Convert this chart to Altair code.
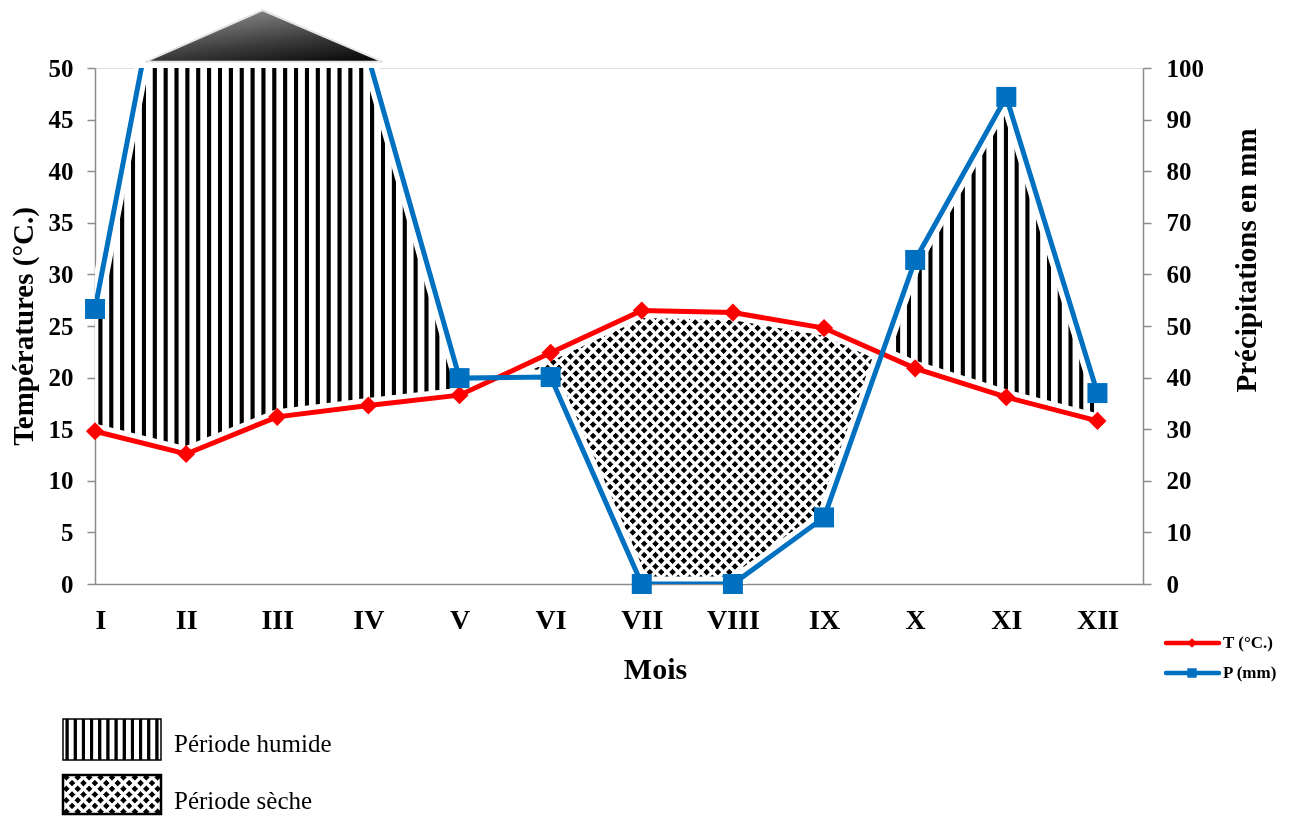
import altair as alt
import pandas as pd
import numpy as np

# ---------------- data ----------------
MONTHS = ["I", "II", "III", "IV", "V", "VI", "VII", "VIII", "IX", "X", "XI", "XII"]
TEMP = [14.8, 12.6, 16.2, 17.3, 18.3, 22.4, 26.5, 26.3, 24.8, 20.9, 18.1, 15.8]
PREC = [53.3, 145.0, 150.0, 102.0, 39.9, 40.1, 0.0, 0.0, 12.9, 62.8, 94.4, 37.0]
# decorative "off-scale" triangle above the plot (month index, mm)
TRI_X = [0.55, 1.84, 3.16]
TRI_P = [101.2, 111.2, 101.2]

SERIES = ["T (°C.)", "P (mm)"]
PERIODS = ["Période humide", "Période sèche"]

# ---------------- layout ----------------
W, H = 1048, 516
X_MAX = 11.5
T_MAX, P_MAX = 50, 100
PX_X = W / X_MAX
PX_T = H / T_MAX
RED = "#FF0000"
BLUE = "#0070C0"
FONT = "Liberation Serif"

idx = list(range(len(MONTHS)))
half_p = [p / 2 for p in PREC]  # precipitation expressed on the temperature scale (P = 2T)


def at(arr, x):
    i = min(int(np.floor(x)), len(arr) - 2)
    return arr[i] + (arr[i + 1] - arr[i]) * (x - i)


# breakpoints of the piecewise-linear curves
bps = []
for i in range(len(idx) - 1):
    bps.append(float(i))
    cands = []
    d0, d1 = half_p[i] - TEMP[i], half_p[i + 1] - TEMP[i + 1]
    if d0 * d1 < 0:
        cands.append(d0 / (d0 - d1))
    e0, e1 = half_p[i] - T_MAX, half_p[i + 1] - T_MAX
    if e0 * e1 < 0:
        cands.append(e0 / (e0 - e1))
    for c in sorted(cands):
        bps.append(i + c)
bps.append(float(len(idx) - 1))

regions = []
cur = None
for a, b in zip(bps[:-1], bps[1:]):
    m = (a + b) / 2
    kind = "humid" if at(half_p, m) > at(TEMP, m) else "dry"
    if cur is None or cur["kind"] != kind:
        cur = {"kind": kind, "xs": [a]}
        regions.append(cur)
    cur["xs"].append(b)

for r in regions:
    rows = []
    for x in r["xs"]:
        p2 = min(at(half_p, x), T_MAX)
        t = at(TEMP, x)
        if r["kind"] == "humid":
            rows.append({"x": x, "top": p2, "bot": t})
        else:
            rows.append({"x": x, "top": t, "bot": p2})
    r["df"] = pd.DataFrame(rows)
    r["w"] = (r["xs"][-1] - r["xs"][0]) * PX_X
    r["h"] = (r["df"]["top"].max() - r["df"]["bot"].min()) * PX_T


def stripes(n, on, off, duty=0.3, soft=0.08):
    st = [alt.GradientStop(color=off, offset=0)]
    for k in range(n):
        s1 = (k + 0.5 - duty / 2) / n
        s2 = (k + 0.5 + duty / 2) / n
        e = soft / n
        st += [
            alt.GradientStop(color=off, offset=max(0, s1 - e)),
            alt.GradientStop(color=on, offset=s1),
            alt.GradientStop(color=on, offset=s2),
            alt.GradientStop(color=off, offset=min(1, s2 + e)),
        ]
    st.append(alt.GradientStop(color=off, offset=1))
    return st


def vgrad(n, on, off, duty=0.3, soft=0.08):
    """vertical stripes"""
    return alt.Gradient(gradient="linear", stops=stripes(n, on, off, duty, soft), x1=0, x2=1, y1=0, y2=0)


def dgrad(w, h, pitch, on, off, down=True, duty=0.5, soft=0.1):
    """45-degree stripes inside a w x h pixel box (gradient in bbox units)"""
    r = h / w
    s = (w + h) / (w * (1 + r * r))
    n = max(1, round((w + h) / np.sqrt(2) / pitch))
    if down:
        return alt.Gradient(gradient="linear", stops=stripes(n, on, off, duty, soft),
                            x1=0, y1=0, x2=s, y2=s * r)
    return alt.Gradient(gradient="linear", stops=stripes(n, on, off, duty, soft),
                        x1=0, y1=1, x2=s, y2=1 - s * r)


HATCH_PITCH = 10.8
DOT_PITCH = 8.0
DOT_DUTY = 0.47

x_axis = alt.Axis(
    values=idx, labelExpr="['" + "','".join(MONTHS) + "'][datum.value]",
    ticks=False, tickSize=0, grid=False, domainColor="#8c8c8c", domainWidth=1.5,
    labelFont=FONT, labelFontSize=28, labelFontWeight="bold", labelColor="black",
    labelPadding=22, title="Mois", titleFont=FONT, titleFontSize=30, titleFontWeight="bold",
    titleColor="black", titlePadding=20, titleX=560,
)
X = alt.X("x:Q", scale=alt.Scale(domain=[0, X_MAX], nice=False, zero=False), axis=x_axis)

t_axis = alt.Axis(
    orient="left", values=list(range(0, 51, 5)), grid=False, domainColor="#8c8c8c", domainWidth=1.5,
    tickColor="#8c8c8c", tickWidth=1.5, tickSize=8,
    labelFont=FONT, labelFontSize=25, labelFontWeight="bold", labelColor="black", labelPadding=14,
    title="Températures (°C.)", titleFont=FONT, titleFontSize=29, titleFontWeight="bold",
    titleColor="black", titlePadding=10,
)
p_axis = alt.Axis(
    orient="right", values=list(range(0, 101, 10)), grid=False, domainColor="#8c8c8c", domainWidth=1.5,
    tickColor="#8c8c8c", tickWidth=1.5, tickSize=8,
    labelFont=FONT, labelFontSize=25, labelFontWeight="bold", labelColor="black", labelPadding=15,
    title="Précipitations en mm", titleFont=FONT, titleFontSize=29, titleFontWeight="bold",
    titleColor="black", titleAngle=270, titlePadding=58, titleY=192,
)
T_SCALE = alt.Scale(domain=[0, T_MAX], nice=False, zero=True)
P_SCALE = alt.Scale(domain=[0, P_MAX], nice=False, zero=True)


def YT(field):
    return alt.Y(f"{field}:Q", scale=T_SCALE, axis=t_axis)


def YP(field):
    return alt.Y(f"{field}:Q", scale=P_SCALE, axis=p_axis)


t_layers = []
for r in regions:
    if r["kind"] == "humid":
        n = max(1, round(r["w"] / HATCH_PITCH))
        t_layers.append(
            alt.Chart(r["df"]).mark_area(color=vgrad(n, "black", "white", 0.3), opacity=1)
            .encode(x=X, y=YT("top"), y2="bot:Q")
        )
    else:
        t_layers.append(
            alt.Chart(r["df"]).mark_area(
                color=dgrad(r["w"], r["h"], DOT_PITCH, "black", "white", True, DOT_DUTY), opacity=1)
            .encode(x=X, y=YT("top"), y2="bot:Q")
        )
        # second set of diagonal stripes, combined with "lighten": black only where both are black -> dots
        t_layers.append(
            alt.Chart(r["df"]).mark_area(
                color=dgrad(r["w"], r["h"], DOT_PITCH, "black", "white", False, DOT_DUTY), opacity=1,
                blend="lighten")
            .encode(x=X, y=YT("top"), y2="bot:Q")
        )

df = pd.DataFrame({"x": idx, "month": MONTHS, "t": TEMP, "p": PREC, "p_half": half_p})

t_halo = alt.Chart(df).mark_line(color="white", strokeWidth=15).encode(x=X, y=YT("t"))
# halo of the precipitation line, drawn on the temperature scale (P = 2T)
p_halo = alt.Chart(df).mark_line(color="white", strokeWidth=15, clip=True).encode(x=X, y=YT("p_half"))

t_line = alt.Chart(df).mark_line(color=RED, strokeWidth=5).encode(x=X, y=YT("t"))
t_pts = alt.Chart(df).mark_point(shape="diamond", filled=True, size=330, color=RED, opacity=1).encode(x=X, y=YT("t"))
p_line = alt.Chart(df).mark_line(color=BLUE, strokeWidth=5, clip=True).encode(x=X, y=YP("p"))
p_pts = (
    alt.Chart(df).transform_filter(f"datum.p <= {P_MAX}")
    .mark_point(shape="square", filled=True, size=400, color=BLUE, opacity=1)
    .encode(x=X, y=YP("p"))
)

tri_df = pd.DataFrame({"x": TRI_X, "p": TRI_P, "base": [TRI_P[0]] * 3})
tri = alt.Chart(tri_df).mark_area(
    color=alt.Gradient(gradient="linear", x1=0.25, y1=0, x2=0.85, y2=1,
                       stops=[alt.GradientStop(color="#8f8f8f", offset=0),
                              alt.GradientStop(color="#3a3a3a", offset=0.6),
                              alt.GradientStop(color="#0a0a0a", offset=1)]),
    stroke="#e6e6e6", strokeWidth=2, opacity=1, clip=False,
).encode(x=X, y=YP("p"), y2="base:Q")

# ---------------- legends (annotation marks in pixel space) ----------------
one = pd.DataFrame({"k": [0]})
BX0, BX1 = -32, 66
B1Y0, B1Y1 = 651, 692
B2Y0, B2Y1 = 707, 746
BW, BH = BX1 - BX0, B2Y1 - B2Y0
leg_box1 = alt.Chart(one).mark_rect(
    color=vgrad(12, "black", "white", 0.3, 0.1), stroke="black", strokeWidth=1.5, opacity=1
).encode(x=alt.value(BX0), x2=alt.value(BX1), y=alt.value(B1Y0), y2=alt.value(B1Y1))
leg_box2a = alt.Chart(one).mark_rect(
    color=dgrad(BW, BH, DOT_PITCH, "black", "white", True, DOT_DUTY), opacity=1
).encode(x=alt.value(BX0), x2=alt.value(BX1), y=alt.value(B2Y0), y2=alt.value(B2Y1))
leg_box2b = alt.Chart(one).mark_rect(
    color=dgrad(BW, BH, DOT_PITCH, "black", "white", False, DOT_DUTY), opacity=1, blend="lighten"
).encode(x=alt.value(BX0), x2=alt.value(BX1), y=alt.value(B2Y0), y2=alt.value(B2Y1))
leg_box2c = alt.Chart(one).mark_rect(
    fill="white", fillOpacity=0, stroke="black", strokeWidth=2.5
).encode(x=alt.value(BX0), x2=alt.value(BX1), y=alt.value(B2Y0), y2=alt.value(B2Y1))

per_df = pd.DataFrame({"label": PERIODS, "ypx": [684, 741]})
leg_txt = alt.Chart(per_df).mark_text(
    align="left", baseline="alphabetic", font=FONT, fontSize=25, color="black"
).encode(x=alt.value(79), y=alt.Y("ypx:Q", scale=None, axis=None), text="label:N")

ser_df = pd.DataFrame({"label": SERIES, "ypx": [575, 605], "col": [RED, BLUE], "shape": ["diamond", "square"]})
leg_rule = alt.Chart(ser_df).mark_rule(strokeWidth=4.5, strokeCap="round").encode(
    x=alt.value(1071), x2=alt.value(1124), y=alt.Y("ypx:Q", scale=None, axis=None),
    color=alt.Color("col:N", scale=None))
leg_sym = alt.Chart(ser_df).mark_point(filled=True, size=90, opacity=1).encode(
    x=alt.value(1097), y=alt.Y("ypx:Q", scale=None, axis=None),
    color=alt.Color("col:N", scale=None), shape=alt.Shape("shape:N", scale=None))
leg_stxt = alt.Chart(ser_df).mark_text(
    align="left", baseline="middle", font=FONT, fontSize=17, fontWeight="bold", color="black"
).encode(x=alt.value(1128), y=alt.Y("ypx:Q", scale=None, axis=None), text="label:N")

t_group = alt.layer(*t_layers, t_halo, p_halo, t_line, t_pts, leg_box1, leg_box2a, leg_box2b, leg_box2c,
                    leg_txt, leg_rule, leg_sym, leg_stxt)
p_group = alt.layer(p_line, p_pts, tri)

chart = (
    alt.layer(t_group, p_group)
    .resolve_scale(y="independent")
    .properties(width=W, height=H, autosize=alt.AutoSizeParams(type="none"),
                padding={"left": 87, "top": 60, "right": 157, "bottom": 232})
    .configure_view(stroke=None)
    .configure(background="white")
)

chart.save("out.html", embed_options={"renderer": "svg", "actions": False})
